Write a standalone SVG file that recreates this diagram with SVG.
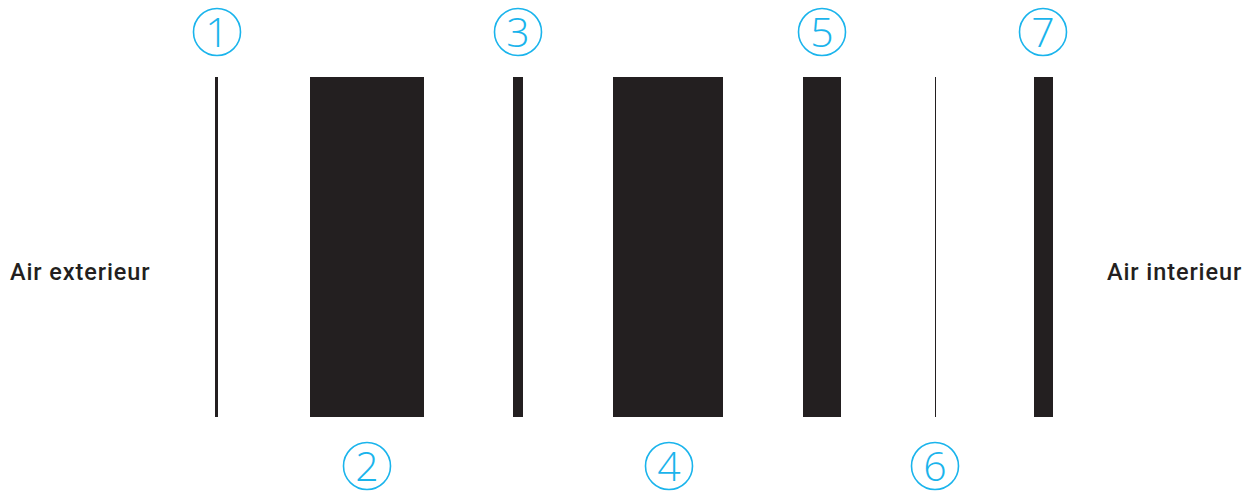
<svg xmlns="http://www.w3.org/2000/svg" width="1253" height="494" viewBox="0 0 1253 494">
<style>
.layer{fill:#231f20}
.num circle{fill:none;stroke:#1ab4ec;stroke-width:1.6}
.num text{fill:#1ab4ec;font-family:"Open Sans","Liberation Sans",sans-serif;font-weight:300;font-size:41px;text-anchor:middle}
.lbl{fill:#231f20;font-family:"Roboto","Liberation Sans",sans-serif;font-weight:500;font-size:23.5px;letter-spacing:0.9px}
</style>
<rect width="1253" height="494" fill="#fff"/>
<g id="layers">
<rect id="layer1" class="layer" x="215" y="77" width="3" height="340"/>
<rect id="layer2" class="layer" x="310" y="77" width="114" height="340"/>
<rect id="layer3" class="layer" x="513" y="77" width="10" height="340"/>
<rect id="layer4" class="layer" x="613" y="77" width="110" height="340"/>
<rect id="layer5" class="layer" x="803" y="77" width="38" height="340"/>
<rect id="layer6" class="layer" x="935" y="77" width="1" height="340"/>
<rect id="layer7" class="layer" x="1034" y="77" width="19" height="340"/>
</g>
<g id="n1" class="num"><circle cx="217" cy="32" r="23.5"/><text x="217" y="47">1</text></g>
<g id="n2" class="num"><circle cx="367" cy="466" r="23.5"/><text x="367" y="481">2</text></g>
<g id="n3" class="num"><circle cx="518" cy="32" r="23.5"/><text x="518" y="47">3</text></g>
<g id="n4" class="num"><circle cx="669" cy="466" r="23.5"/><text x="669" y="481">4</text></g>
<g id="n5" class="num"><circle cx="822" cy="32" r="23.5"/><text x="822" y="47">5</text></g>
<g id="n6" class="num"><circle cx="935" cy="466" r="23.5"/><text x="935" y="481">6</text></g>
<g id="n7" class="num"><circle cx="1043" cy="32" r="23.5"/><text x="1043" y="47">7</text></g>
<text id="ext" class="lbl" x="10" y="280">Air exterieur</text>
<text id="int" class="lbl" x="1107" y="280">Air interieur</text>
</svg>
